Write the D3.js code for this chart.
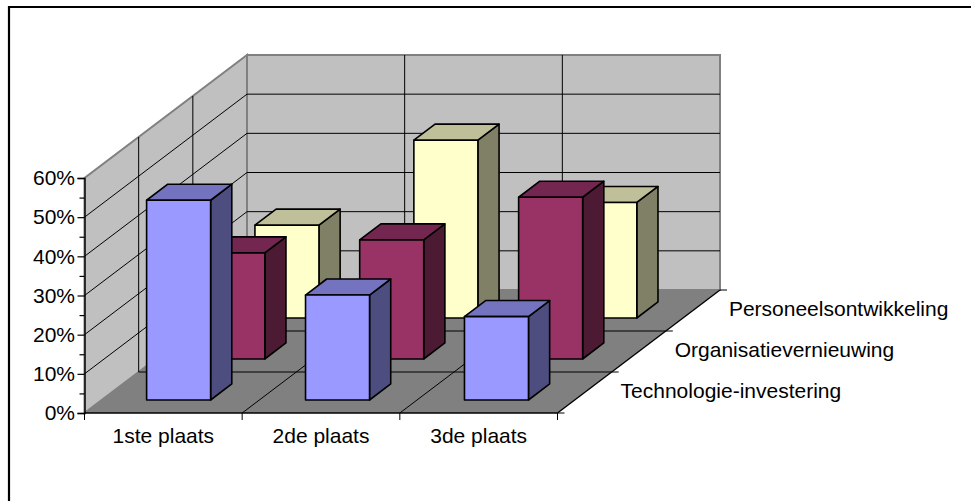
<!DOCTYPE html>
<html>
<head>
<meta charset="utf-8">
<style>
html,body{margin:0;padding:0;background:#fff;}
svg{display:block;}
text{font-family:"Liberation Sans",Arial,sans-serif;font-size:21px;fill:#000;}
</style>
<script src="https://cdn.jsdelivr.net/npm/d3@7"></script>
</head>
<body>
<svg id="chart" width="971" height="501"></svg>
<script>
const categories = ["1ste plaats", "2de plaats", "3de plaats"];
const seriesNames = ["Technologie-investering", "Organisatievernieuwing", "Personeelsontwikkeling"];
const technologie = [51, 26.8, 21.3];
const organisatie = [27.1, 30.4, 41.3];
const personeel = [23.7, 45.4, 29.5];
const seriesValues = [technologie, organisatie, personeel];
const seriesFill = ["#9999FF", "#993366", "#FFFFCC"];
const seriesTop = ["#7373BF", "#732650", "#BFBF99"];
const seriesSide = ["#4D4D80", "#4D1A33", "#808066"];
const valueTicks = [0, 5, 10, 15, 20, 25, 30, 35, 40, 45, 50, 55, 60];

const svg = d3.select("#chart");

// Oblique projection: category -> x, series depth -> (dx, dy), value -> height
const xScale = d3.scaleLinear().domain([0, categories.length]).range([84.5, 557.5]);
const barSlot = d3.scaleLinear().domain([0, categories.length]).range([0, 3.024]);
const depthX = d3.scaleLinear().domain([0, seriesNames.length]).range([0, 162.5]);
const depthY = d3.scaleLinear().domain([0, seriesNames.length]).range([0, -123]);
const yScale = d3.scaleLinear().domain([0, 60]).range([413, 178]);

const pt = (c, d, v) => [xScale(c) + depthX(d), yScale(v) + depthY(d)];
const poly = (pts) => d3.line()(pts) + "Z";
const nC = categories.length, nS = seriesNames.length, maxV = 60;

// Frame: only the top and left edges fall inside the picture
const frame = svg.append("g").attr("stroke", "#000").attr("stroke-width", 2.2);
frame.append("line").attr("x1", 8).attr("x2", 971).attr("y1", 7).attr("y2", 7);
frame.append("line").attr("x1", 9).attr("x2", 9).attr("y1", 6).attr("y2", 501);

// Walls and floor
const wallStyle = s => s.attr("fill", "#C0C0C0").attr("stroke", "#808080").attr("stroke-width", 2).attr("stroke-linejoin", "miter");
svg.append("path").attr("d", poly([pt(0,0,0), pt(0,nS,0), pt(0,nS,maxV), pt(0,0,maxV)])).call(wallStyle);
svg.append("path").attr("d", poly([pt(0,nS,0), pt(nC,nS,0), pt(nC,nS,maxV), pt(0,nS,maxV)])).call(wallStyle);
svg.append("path").attr("d", poly([pt(0,0,0), pt(nC,0,0), pt(nC,nS,0), pt(0,nS,0)]))
  .attr("fill", "#808080").attr("stroke", "none");

// Gridlines
const grid = svg.append("g").attr("fill", "none").attr("stroke", "#000").attr("stroke-width", 1);
const seg = (a, b) => grid.append("path").attr("d", d3.line()([a, b]));
d3.range(10, maxV, 10).forEach(v => {
  seg(pt(0,0,v), pt(0,nS,v));
  seg(pt(0,nS,v), pt(nC,nS,v));
});
d3.range(1, nS).forEach(d => {
  seg(pt(0,d,0), pt(0,d,maxV));
  seg(pt(0,d,0), pt(nC,d,0));
});
d3.range(1, nC).forEach(c => {
  seg(pt(c,nS,0), pt(c,nS,maxV));
  seg(pt(c,0,0), pt(c,nS,0));
});

// Floor edges, base ticks, series ticks
const edges = svg.append("g").attr("fill", "none").attr("stroke", "#000").attr("stroke-width", 1.4);
edges.append("path").attr("d", d3.line()([pt(0,0,0), pt(nC,0,0)]));
edges.append("path").attr("d", d3.line()([pt(nC,0,0), pt(nC,nS,0)]));
d3.range(0, nC + 1).forEach(c => {
  const p = pt(c,0,0);
  grid.append("path").attr("d", d3.line()([p, [p[0], p[1] + 7]]));
});
d3.range(0, nS + 1).forEach(d => {
  const p = pt(nC,d,0);
  grid.append("path").attr("d", d3.line()([p, [p[0] + 7, p[1]]]));
});

// Value axis
const yAxis = d3.axisLeft(yScale).tickValues(valueTicks).tickSize(7).tickPadding(2.5)
  .tickFormat(v => v % 10 === 0 ? v + "%" : "");
const yG = svg.append("g").attr("transform", "translate(84.5,0)").call(yAxis);
yG.select(".domain").attr("stroke", "#000").attr("stroke-width", 1.4);
yG.selectAll(".tick line").attr("stroke", "#000").attr("stroke-width", 1.2)
  .attr("x2", v => v % 10 === 0 ? -7 : -5);
yG.selectAll("text").style("font-family", '"Liberation Sans",Arial,sans-serif').style("font-size", "21px").attr("fill", "#000");

// Bars: painted back to front
const barStart = 0.285, barEnd = 0.691, depthStart = 0.317, depthEnd = 0.708;
d3.range(nS - 1, -1, -1).forEach(s => {
  const g = svg.append("g").attr("stroke", "#000").attr("stroke-width", 1.6).attr("stroke-linejoin", "round");
  seriesValues[s].forEach((v, c) => {
    const c0 = barSlot(c) + barStart, c1 = barSlot(c) + barEnd, d0 = s + depthStart, d1 = s + depthEnd;
    g.append("path").attr("fill", seriesSide[s])
      .attr("d", poly([pt(c1,d0,0), pt(c1,d1,0), pt(c1,d1,v), pt(c1,d0,v)]));
    g.append("path").attr("fill", seriesTop[s])
      .attr("d", poly([pt(c0,d0,v), pt(c1,d0,v), pt(c1,d1,v), pt(c0,d1,v)]));
    g.append("path").attr("fill", seriesFill[s])
      .attr("d", poly([pt(c0,d0,0), pt(c1,d0,0), pt(c1,d0,v), pt(c0,d0,v)]));
  });
});

// Category labels
svg.append("g").selectAll("text").data(categories).join("text")
  .attr("text-anchor", "middle")
  .attr("x", (d, i) => xScale(i + 0.5))
  .attr("y", 443)
  .text(d => d);

// Series labels
svg.append("g").selectAll("text").data(seriesNames).join("text")
  .attr("x", (d, i) => pt(nC, i + 0.5, 0)[0] + 36)
  .attr("y", (d, i) => pt(nC, i + 0.5, 0)[1] + 5)
  .text(d => d);
</script>
</body>
</html>
